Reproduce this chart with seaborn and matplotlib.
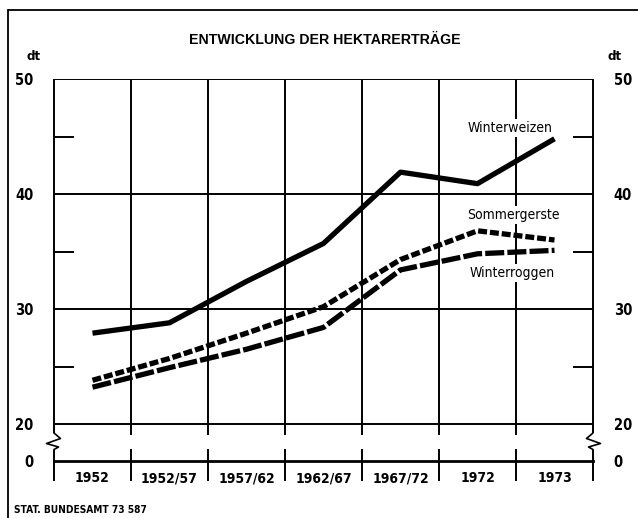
import matplotlib
matplotlib.use("Agg")
import matplotlib.pyplot as plt
from matplotlib.lines import Line2D
from matplotlib import font_manager
import seaborn as sns
import pandas as pd

# ---------------- data ----------------
categories = ["1952", "1952/57", "1957/62", "1962/67", "1967/72", "1972", "1973"]
winterweizen = [27.9, 28.8, 32.4, 35.7, 41.9, 40.9, 44.8]
sommergerste = [23.8, 25.7, 27.9, 30.2, 34.3, 36.8, 36.0]
winterroggen = [23.2, 24.9, 26.5, 28.4, 33.4, 34.8, 35.1]
series_names = ["Winterweizen", "Sommergerste", "Winterroggen"]
y_major = [20, 30, 40, 50]
y_minor = [25, 35, 45]
zero_label = "0"
title = "ENTWICKLUNG DER HEKTARERTRÄGE"
unit = "dt"
source = "STAT. BUNDESAMT 73 587"

# ---------------- style ----------------
sns.set_theme(style="white")
fl = font_manager.fontManager.ttflist
if any(f.name == "Liberation Sans Narrow" for f in fl):
    NARROW, STRETCH, IS_NARROW = "Liberation Sans Narrow", "normal", True
elif any(f.name == "DejaVu Sans" and f.stretch == "condensed" for f in fl):
    NARROW, STRETCH, IS_NARROW = "DejaVu Sans", "condensed", True
else:
    NARROW, STRETCH, IS_NARROW = "Liberation Sans", "normal", False
plt.rcParams["font.family"] = [NARROW, "DejaVu Sans"]
plt.rcParams["font.stretch"] = STRETCH
plt.rcParams["text.color"] = "black"
WIDE = ["Liberation Sans", "DejaVu Sans"]

fs_lab = 10 if IS_NARROW else 9.5     # series labels
fs_tick = 10.5 if IS_NARROW else 10   # tick labels
fs_cat = 10 if IS_NARROW else 9.5     # category labels

W, H = 638, 518
fig = plt.figure(figsize=(W / 100, H / 100), dpi=100)
fig.patch.set_facecolor("white")

# axes: x 54..593 px, y 79 (=50) .. 461 (baseline "0")
px_left, px_right, px_top, px_base, px_20 = 54, 593, 79, 461, 424
ax = fig.add_axes([px_left / W, 1 - px_base / H,
                   (px_right - px_left) / W, (px_base - px_top) / H])
ax.set_facecolor("white")

ppd = (px_20 - px_top) / (y_major[-1] - y_major[0])   # pixels per dt
y_base = y_major[0] - (px_base - px_20) / ppd          # fake position of "0"
ax.set_ylim(y_base, y_major[-1])
ax.set_xlim(-0.5, len(categories) - 0.5)
ppc = (px_right - px_left) / len(categories)           # pixels per category

def yp(py):   # pixel row -> data y
    return y_major[0] - (py - px_20) / ppd

def xp(px):   # pixel column -> data x
    return -0.5 + (px - px_left) / ppc

df = pd.DataFrame({
    "pos": list(range(len(categories))) * 3,
    "value": winterweizen + sommergerste + winterroggen,
    "series": sum([[n] * len(categories) for n in series_names], []),
})

LW = 3.8
dash_map = {"Winterweizen": None, "Sommergerste": (1.7, 0.55), "Winterroggen": (3.6, 0.6)}
for name in series_names:
    sub = df[df["series"] == name]
    sns.lineplot(data=sub, x="pos", y="value", ax=ax, color="black",
                 linewidth=LW, legend=False, zorder=5)
    ln = ax.lines[-1]
    ln.set_solid_capstyle("butt")
    ln.set_dash_capstyle("butt")
    ln.set_solid_joinstyle("round")
    if dash_map[name] is not None:
        ln.set_dashes(dash_map[name])

GL = 1.4
# horizontal grid
for y in y_major:
    ax.axhline(y, color="black", lw=GL, zorder=1)
# vertical separators
for i in range(1, len(categories)):
    x = i - 0.5
    ax.vlines(x, yp(435), y_major[-1], color="black", lw=GL, zorder=1)
    ax.vlines(x, yp(481), yp(449), color="black", lw=GL, zorder=1, clip_on=False)

# axis lines with breaks
for side, sgn in (("l", 1), ("r", -1)):
    x0px = px_left if side == "l" else px_right
    xd = xp(x0px)
    ax.vlines(xd, yp(433), y_major[-1], color="black", lw=GL, zorder=2, clip_on=False)
    ax.vlines(xd, yp(481), yp(449.5), color="black", lw=GL, zorder=2, clip_on=False)
    zz_dx = [0, 6.5, -7.5, 4.5, 0]
    zz_py = [433, 438.5, 443.5, 447, 449.5]
    ax.plot([xp(x0px + sgn * d) for d in zz_dx], [yp(p) for p in zz_py],
            color="black", lw=1.2, clip_on=False, zorder=2)
    # minor ticks
    x_end = xp(x0px + sgn * 20)
    for y in y_minor:
        ax.plot([xd, x_end], [y, y], color="black", lw=GL, zorder=2, solid_capstyle="butt")

for s in ax.spines.values():
    s.set_visible(False)
ax.spines["bottom"].set_visible(True)
ax.spines["bottom"].set_color("black")
ax.spines["bottom"].set_linewidth(2.0)

# ticks
ax.set_yticks(y_major + [y_base])
ax.set_yticklabels([str(v) for v in y_major] + [zero_label])
ax.tick_params(axis="y", left=False, right=False, labelleft=True, labelright=True,
               pad=9, labelsize=fs_tick, labelcolor="black")
for t in ax.get_yticklabels():
    t.set_fontweight("bold")
ax.set_xticks(range(len(categories)))
ax.set_xticklabels(categories)
ax.tick_params(axis="x", bottom=False, pad=1.5, labelsize=fs_cat, labelcolor="black")
for t in ax.get_xticklabels():
    t.set_fontweight("bold")
ax.set_xlabel("")
ax.set_ylabel("")

# series labels
label_pos = {"Winterweizen": (510, 128), "Sommergerste": (513, 215), "Winterroggen": (512, 273)}
for name in series_names:
    px, py = label_pos[name]
    ax.text(xp(px), yp(py), name, ha="center", va="center", fontsize=fs_lab,
            color="black", zorder=4,
            bbox=dict(facecolor="white", edgecolor="none", pad=1.5))

# unit labels
fig.text(34 / W, 1 - 57 / H, unit, ha="center", va="center", fontsize=9.5, fontweight="bold")
fig.text(615 / W, 1 - 57 / H, unit, ha="center", va="center", fontsize=9.5, fontweight="bold")

# title
fig.text(325 / W, 1 - 40 / H, title, ha="center", va="center", fontsize=10.2,
         fontweight="bold", family=WIDE, fontstretch="normal", color="black")

# source
fig.text(14 / W, 1 - 510 / H, source, ha="left", va="center", fontsize=7.3,
         fontweight="bold")

# outer frame (top and left)
fig.add_artist(Line2D([8 / W, 1.0], [1 - 10 / H, 1 - 10 / H], color="black", lw=1.3,
                      transform=fig.transFigure))
fig.add_artist(Line2D([8 / W, 8 / W], [1 - 10 / H, 0.0], color="black", lw=1.3,
                      transform=fig.transFigure))

fig.savefig("out.png", dpi=100, facecolor="white")
